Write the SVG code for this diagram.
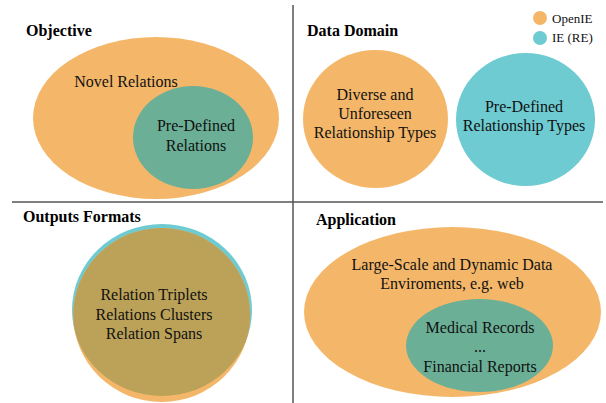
<svg xmlns="http://www.w3.org/2000/svg" width="606" height="403" viewBox="0 0 606 403">
<style>
.t{font-family:"Liberation Serif","Times New Roman",serif;font-size:16px;fill:#111;text-anchor:middle}
.h{font-family:"Liberation Serif","Times New Roman",serif;font-size:16px;font-weight:bold;fill:#000}
.l{font-family:"Liberation Serif","Times New Roman",serif;font-size:13px;fill:#111}
.or{fill:#F4B76A}
.cy{fill:#6ECBD2}
.gr{fill:#6AAF96}
.ol{fill:#BBA258}
.div{stroke:#555;stroke-width:1.5;fill:none}
</style>
<defs>
<clipPath id="cpOut"><ellipse cx="162" cy="310" rx="90" ry="86"/></clipPath>
</defs>
<rect width="606" height="403" fill="#fff"/>
<g id="dividers">
<line class="div" x1="293" y1="5" x2="293" y2="403"/>
<line class="div" x1="12" y1="202" x2="603" y2="202"/>
</g>
<g id="legend">
<circle class="or" cx="540" cy="18" r="7"/>
<text class="l" x="552" y="22.5">OpenIE</text>
<circle class="cy" cx="540" cy="38" r="7"/>
<text class="l" x="552" y="42">IE (RE)</text>
</g>
<g id="objective">
<text class="h" x="26" y="36">Objective</text>
<ellipse class="or" cx="156" cy="118" rx="123" ry="81"/>
<text class="t" x="126" y="87">Novel Relations</text>
<ellipse class="gr" cx="193" cy="137.5" rx="60" ry="51.5"/>
<text class="t" x="196" y="131">Pre-Defined</text>
<text class="t" x="196" y="151">Relations</text>
</g>
<g id="data-domain">
<text class="h" x="307" y="36">Data Domain</text>
<ellipse class="or" cx="375.5" cy="119" rx="72.5" ry="69"/>
<text class="t" x="375" y="100">Diverse and</text>
<text class="t" x="375" y="119">Unforeseen</text>
<text class="t" x="375" y="138">Relationship Types</text>
<ellipse class="cy" cx="525.5" cy="119.5" rx="69.5" ry="66.5"/>
<text class="t" x="524" y="112">Pre-Defined</text>
<text class="t" x="524" y="131">Relationship Types</text>
</g>
<g id="outputs-formats">
<text class="h" x="23" y="222">Outputs Formats</text>
<ellipse class="cy" cx="162" cy="310" rx="90" ry="86"/>
<ellipse class="or" cx="161.7" cy="315" rx="88.5" ry="87"/>
<ellipse class="ol" cx="161.7" cy="315" rx="88.5" ry="87" clip-path="url(#cpOut)"/>
<text class="t" x="154" y="300">Relation Triplets</text>
<text class="t" x="154" y="320">Relations Clusters</text>
<text class="t" x="154" y="339">Relation Spans</text>
</g>
<g id="application">
<text class="h" x="316" y="225">Application</text>
<ellipse class="or" cx="452.5" cy="312" rx="148.5" ry="85"/>
<text class="t" x="452" y="270">Large-Scale and Dynamic Data</text>
<text class="t" x="452" y="289">Enviroments, e.g. web</text>
<ellipse class="gr" cx="479.5" cy="345.5" rx="73.5" ry="46.5"/>
<text class="t" x="480" y="333">Medical Records</text>
<text class="t" x="480" y="352">...</text>
<text class="t" x="480" y="372">Financial Reports</text>
</g>
</svg>
